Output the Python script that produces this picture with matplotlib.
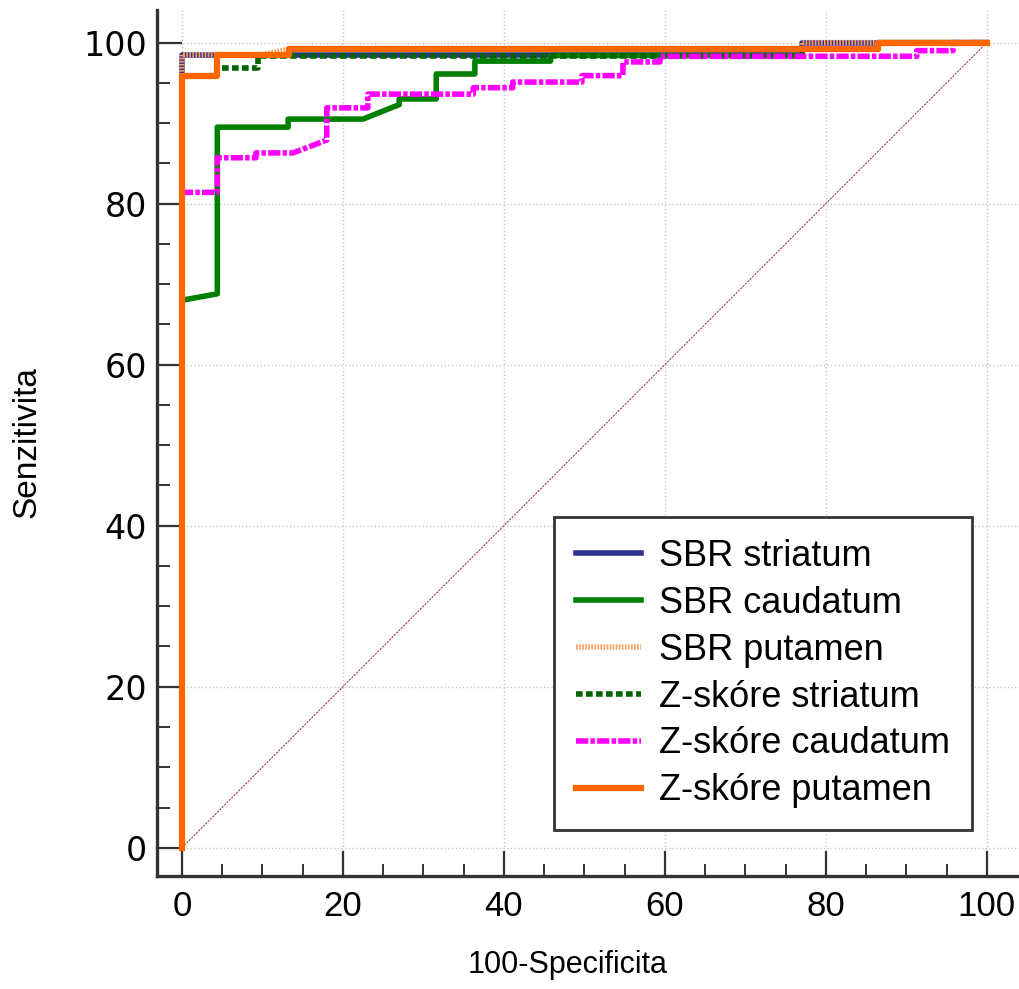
import numpy as np
from matplotlib import pyplot as plt
from matplotlib.ticker import MultipleLocator

# ROC curves: x = 100-Specificita, y = Senzitivita
sbr_str_x = [0, 0, 77, 77, 100]
sbr_str_y = [0, 98.5, 98.5, 100, 100]

sbr_cau_x = [0, 0, 4.4, 4.4, 13.2, 13.2, 22.5, 27.0, 27.0, 31.6, 31.6, 36.4, 36.4, 45.8, 45.8, 77, 77, 86.5, 86.5, 100]
sbr_cau_y = [0, 68.0, 68.8, 89.5, 89.5, 90.5, 90.5, 92.3, 93.0, 93.0, 96.1, 96.1, 97.7, 97.7, 98.4, 98.4, 99.2, 99.2, 100, 100]

sbr_put_x = [0, 0, 10.0, 13.3, 77, 77, 100]
sbr_put_y = [0, 98.5, 98.5, 99.2, 99.2, 100, 100]

z_str_x = [0, 0, 4.4, 4.4, 9.4, 9.4, 77, 77, 86.5, 86.5, 100]
z_str_y = [0, 95.9, 95.9, 96.8, 96.8, 98.3, 98.3, 99.2, 99.2, 100, 100]

z_cau_x = [0, 0, 4.4, 4.4, 9.2, 9.2, 13.8, 18.0, 18.0, 23.1, 23.1, 36.2, 36.2, 41.1, 41.1,
           49.7, 49.7, 54.8, 54.8, 59.4, 59.4, 91.3, 91.3, 95.8, 95.8, 100]
z_cau_y = [0, 81.4, 81.4, 85.7, 85.7, 86.3, 86.3, 87.9, 91.9, 91.9, 93.6, 93.6, 94.4, 94.4, 95.1,
           95.1, 95.9, 95.9, 97.6, 97.6, 98.3, 98.3, 99.0, 99.0, 100, 100]

z_put_x = [0, 0, 4.4, 4.4, 13.3, 13.3, 86.5, 86.5, 100]
z_put_y = [0, 95.9, 95.9, 98.4, 98.4, 99.2, 99.2, 100, 100]

names = ["SBR striatum", "SBR caudatum", "SBR putamen",
         "Z-skóre striatum", "Z-skóre caudatum", "Z-skóre putamen"]

narrow = ['Liberation Sans Narrow', 'Liberation Sans', 'DejaVu Sans']
dark = '#333333'

fig = plt.figure(figsize=(10.19, 9.89), dpi=100)
ax = fig.add_axes([0.154, 0.1143, 0.846, 0.876])

# reference diagonal
ax.plot([0, 100], [0, 100], color='#b04040', lw=0.8, ls=(0, (2, 1)), zorder=2)

ax.plot(sbr_str_x, sbr_str_y, color='#2e3192', lw=4, label=names[0], zorder=3)
ax.plot(sbr_cau_x, sbr_cau_y, color='#008000', lw=4, label=names[1], zorder=3)
ax.plot(sbr_put_x, sbr_put_y, color='#ffa060', lw=4, ls=(0, (0.3, 0.25)), label=names[2], zorder=3)
ax.plot(z_str_x, z_str_y, color='#006400', lw=4, ls=(0, (1.2, 0.6)), label=names[3], zorder=3)
ax.plot(z_cau_x, z_cau_y, color='#ff00ff', lw=4, ls=(0, (2.2, 0.4, 0.8, 0.4)), label=names[4], zorder=3)
ax.plot(z_put_x, z_put_y, color='#ff6600', lw=4.5, label=names[5], zorder=4)

ax.set_xlim(-3.1, 104.0)
ax.set_ylim(-3.5, 104.1)

ax.xaxis.set_major_locator(MultipleLocator(20))
ax.xaxis.set_minor_locator(MultipleLocator(5))
ax.yaxis.set_major_locator(MultipleLocator(20))
ax.yaxis.set_minor_locator(MultipleLocator(5))

ax.grid(True, which='major', color='#c8c8c8', ls=':', lw=1)
ax.set_axisbelow(True)

for s in ['top', 'right']:
    ax.spines[s].set_visible(False)
for s in ['left', 'bottom']:
    ax.spines[s].set_color(dark)
    ax.spines[s].set_linewidth(2.4)

ax.tick_params(which='major', direction='in', length=18, width=1.6, color=dark)
ax.tick_params(which='minor', direction='in', length=9, width=1.4, color=dark)
ax.tick_params(axis='y', which='major', pad=7, labelsize=24)
ax.tick_params(axis='x', which='major', pad=10, labelsize=25)
for t in ax.get_yticklabels():
    t.set_family('DejaVu Sans')
for t in ax.get_xticklabels():
    t.set_family(narrow)

ax.set_xlabel("100-Specificita", fontsize=22, family=narrow)
ax.set_ylabel("Senzitivita", fontsize=24, family=narrow)
ax.xaxis.set_label_coords(0.476, -0.086)
ax.yaxis.set_label_coords(-0.133, 0.501)

leg = ax.legend(loc='lower right', bbox_to_anchor=(0.945, 0.053), borderaxespad=0,
                prop={'family': 'Liberation Sans', 'size': 26},
                handlelength=1.8, handletextpad=0.5, labelspacing=0.33,
                borderpad=0.6, fancybox=False, framealpha=1)
leg.get_frame().set_edgecolor(dark)
leg.get_frame().set_linewidth(2)

fig.savefig('out.png', dpi=100)
